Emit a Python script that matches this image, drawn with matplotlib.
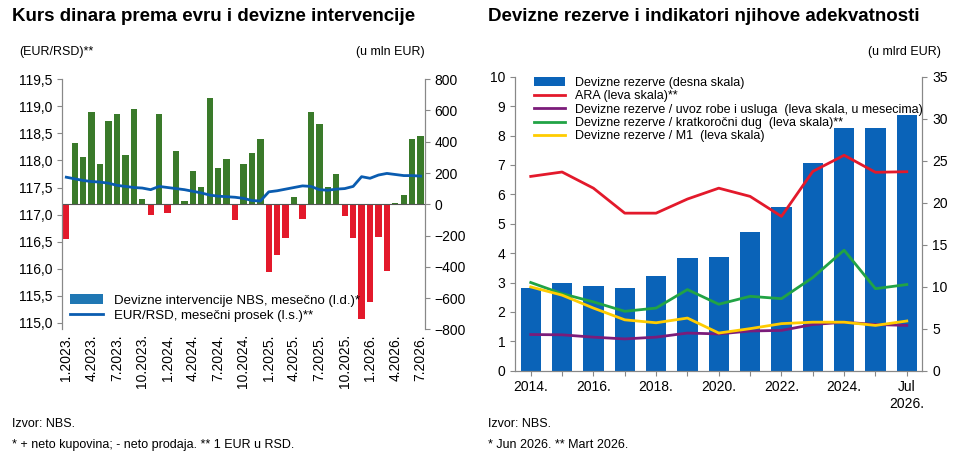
import numpy as np
import matplotlib.pyplot as plt

plt.rcParams['font.family'] = ['Liberation Sans', 'DejaVu Sans']

# levi grafikon: mesecno, 1.2023 - 7.2026
intervencije = [-220, 394, 304, 587, 255, 531, 580, 317, 612, 36, -70, 580, -55, 340, 20,
                214, 111, 680, 229, 291, -100, 257, 329, 419, -434, -327, -214, 49, -92,
                587, 516, 111, 195, -77, -214, -732, -625, -210, -428, 8, 60, 417, 439]
eur_rsd = [117.69, 117.66, 117.63, 117.61, 117.60, 117.58, 117.54, 117.52, 117.50, 117.49,
           117.46, 117.52, 117.50, 117.48, 117.46, 117.43, 117.40, 117.36, 117.34, 117.33,
           117.32, 117.30, 117.26, 117.25, 117.42, 117.44, 117.47, 117.50, 117.53, 117.52,
           117.46, 117.45, 117.47, 117.48, 117.52, 117.70, 117.67, 117.73, 117.76, 117.74,
           117.72, 117.72, 117.71]
mesec_labels = ['1.2023.', '4.2023.', '7.2023.', '10.2023.', '1.2024.', '4.2024.', '7.2024.',
                '10.2024.', '1.2025.', '4.2025.', '7.2025.', '10.2025.', '1.2026.', '4.2026.', '7.2026.']

# desni grafikon: godisnje
godine = ['2014.', '', '2016.', '', '2018.', '', '2020.', '', '2022.', '', '2024.', '', 'Jul\n2026.']
rezerve = [9.8, 10.5, 10.1, 9.9, 11.25, 13.4, 13.5, 16.5, 19.5, 24.7, 28.9, 28.9, 30.5]
ara = [6.61, 6.76, 6.21, 5.36, 5.36, 5.84, 6.21, 5.93, 5.25, 6.78, 7.33, 6.75, 6.77]
uvoz = [1.23, 1.22, 1.14, 1.08, 1.14, 1.28, 1.25, 1.35, 1.37, 1.57, 1.65, 1.57, 1.54]
kratk_dug = [3.0, 2.62, 2.34, 2.02, 2.13, 2.76, 2.26, 2.53, 2.45, 3.17, 4.1, 2.79, 2.93]
m1 = [2.85, 2.57, 2.13, 1.73, 1.63, 1.79, 1.28, 1.43, 1.60, 1.65, 1.65, 1.54, 1.69]

fig = plt.figure(figsize=(9.7, 4.74), dpi=100)

# ---- levo
ax = fig.add_axes([0.064, 0.305, 0.374, 0.528])
ax2 = ax.twinx()
x = np.arange(len(intervencije))
boje = ['#3a7a2a' if v >= 0 else '#e3192b' for v in intervencije]
ax2.bar(x, intervencije, width=0.75, color=boje)
ax2.bar([], [], color='#3a7a2a', label='Devizne intervencije NBS, mesečno (l.d.)*')
ax2.axhline(0, color='#555555', lw=0.8)
ax2.set_ylim(-800, 800)
ax2.set_yticks(range(-800, 801, 200))
ax.plot(x, eur_rsd, color='#0a5cb0', lw=2, label='EUR/RSD, mesečni prosek (l.s.)**')
ax.set_zorder(ax2.get_zorder() + 1)
ax.patch.set_visible(False)
ax.set_ylim(114.88, 119.5)
ax.set_yticks(np.arange(115, 119.51, 0.5))
ax.set_yticklabels([f'{v:.1f}'.replace('.', ',') for v in np.arange(115, 119.51, 0.5)])
ax.set_xlim(-0.5, len(x) - 0.5)
ax.set_xticks(range(0, len(x), 3))
ax.set_xticklabels(mesec_labels, rotation=90)
h1, l1 = ax2.get_legend_handles_labels()
h2, l2 = ax.get_legend_handles_labels()
ax.legend(h1 + h2, l1 + l2, loc='lower left', frameon=False, fontsize=9.5,
          handlelength=2.5, borderaxespad=0.2, labelspacing=0.2)
for a in (ax, ax2):
    a.spines['top'].set_visible(False)
    a.spines['bottom'].set_visible(False)
    a.tick_params(labelsize=10, color='#888888')
    for s in ('left', 'right'):
        a.spines[s].set_color('#888888')
ax.tick_params(axis='x', length=0)
fig.text(0.012, 0.955, 'Kurs dinara prema evru i devizne intervencije', fontsize=13.5, weight='bold')
fig.text(0.02, 0.885, '(EUR/RSD)**', fontsize=9)
fig.text(0.438, 0.885, '(u mln EUR)', fontsize=9, ha='right')
fig.text(0.012, 0.1, 'Izvor: NBS.', fontsize=9)
fig.text(0.012, 0.055, '* + neto kupovina; - neto prodaja. ** 1 EUR u RSD.', fontsize=9)

# ---- desno
bx = fig.add_axes([0.531, 0.218, 0.42, 0.62])
bx2 = bx.twinx()
xg = np.arange(len(rezerve))
bx2.bar(xg, rezerve, width=0.65, color='#0a63b8', label='Devizne rezerve (desna skala)')
bx2.set_ylim(0, 35)
bx.plot(xg, ara, color='#e3192b', lw=2, label='ARA (leva skala)**')
bx.plot(xg, uvoz, color='#7b1c7a', lw=2, label='Devizne rezerve / uvoz robe i usluga  (leva skala, u mesecima)')
bx.plot(xg, kratk_dug, color='#21a345', lw=2, label='Devizne rezerve / kratkoročni dug  (leva skala)**')
bx.plot(xg, m1, color='#ffcc00', lw=2, label='Devizne rezerve / M1  (leva skala)')
bx.set_zorder(bx2.get_zorder() + 1)
bx.patch.set_visible(False)
bx.set_ylim(0, 10)
bx.set_yticks(range(0, 11))
bx.set_xlim(-0.5, len(xg) - 0.5)
bx.set_xticks(xg)
bx.set_xticklabels(godine)
hb1, lb1 = bx2.get_legend_handles_labels()
hb2, lb2 = bx.get_legend_handles_labels()
bx.legend(hb1 + hb2, lb1 + lb2, loc='upper left', frameon=False, fontsize=9,
          handlelength=2.5, borderaxespad=0.1, labelspacing=0.1, bbox_to_anchor=(0.03, 1.02))
for a in (bx, bx2):
    a.spines['top'].set_visible(False)
    a.tick_params(labelsize=10, color='#888888')
    for s in ('left', 'right', 'bottom'):
        a.spines[s].set_color('#888888')
fig.text(0.503, 0.955, 'Devizne rezerve i indikatori njihove adekvatnosti', fontsize=13.5, weight='bold')
fig.text(0.97, 0.885, '(u mlrd EUR)', fontsize=9, ha='right')
fig.text(0.503, 0.1, 'Izvor: NBS.', fontsize=9)
fig.text(0.503, 0.055, '* Jun 2026. ** Mart 2026.', fontsize=9)

fig.savefig('out.png', dpi=100)
